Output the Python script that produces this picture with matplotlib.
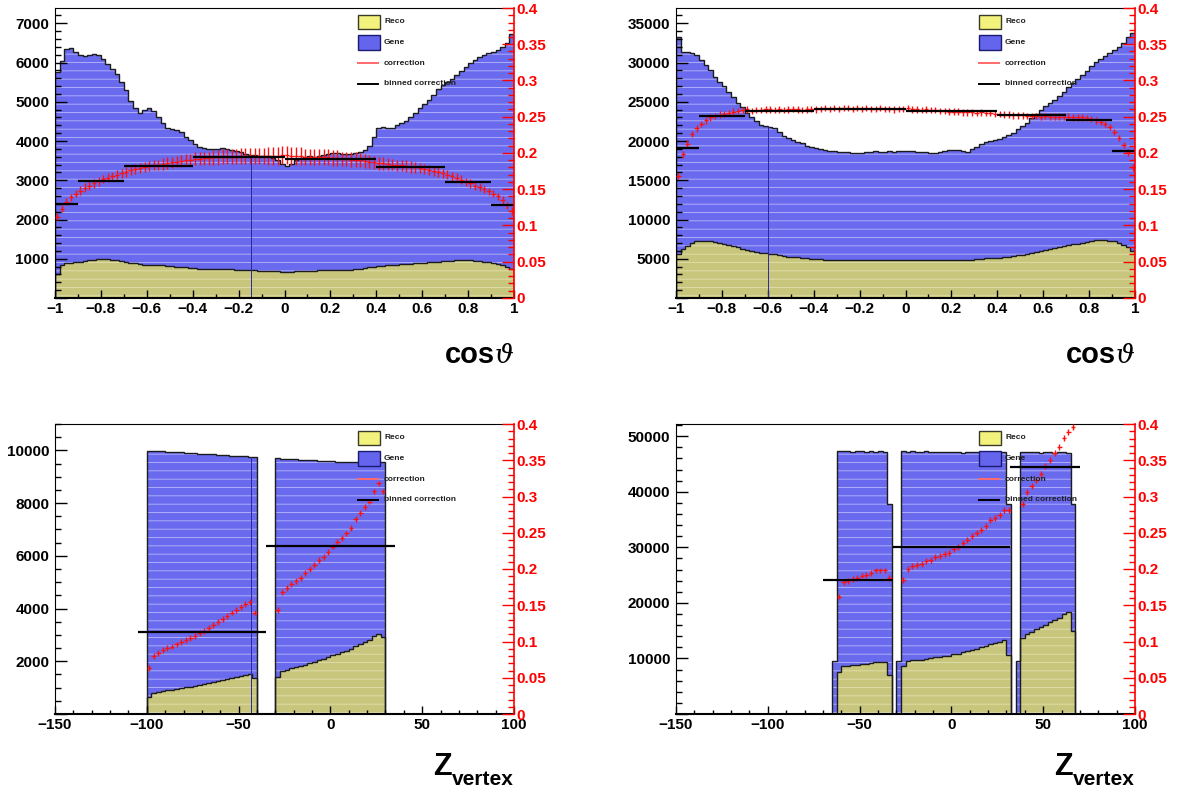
import numpy as np
import matplotlib
matplotlib.use("Agg")
import matplotlib.pyplot as plt
from matplotlib.patches import Rectangle
from matplotlib.lines import Line2D
from matplotlib.ticker import MultipleLocator, FuncFormatter

plt.rcParams['font.family'] = ['Liberation Sans', 'DejaVu Sans']
plt.rcParams['font.weight'] = 'bold'
plt.rcParams['hatch.linewidth'] = 0.6
plt.rcParams['axes.unicode_minus'] = True

W, H = 1179, 793

#### cos(theta): 100 bins on [-1, 1]
cos_edges = np.linspace(-1, 1, 101)

gene_tl = [5765, 6037, 6335, 6378, 6259, 6190, 6165, 6190, 6216, 6190,
           6080, 5961, 5833, 5706, 5510, 5298, 5026, 4830, 4719, 4787,
           4830, 4770, 4617, 4464, 4337, 4303, 4277, 4218, 4107, 4022,
           3920, 3852, 3835, 3801, 3793, 3793, 3810, 3801, 3784, 3750,
           3724, 3682, 3656, 3639, 3622, 3622, 3614, 3580, 3529, 3427,
           3367, 3427, 3529, 3580, 3597, 3614, 3597, 3614, 3639, 3682,
           3707, 3699, 3682, 3665, 3665, 3699, 3724, 3767, 3869, 4090,
           4320, 4345, 4337, 4337, 4396, 4447, 4515, 4617, 4719, 4847,
           4940, 5043, 5170, 5315, 5425, 5510, 5570, 5680, 5791, 5893,
           5978, 6063, 6131, 6190, 6233, 6276, 6318, 6403, 6488, 6718]
reco_tl = [620, 840, 880, 900, 910, 930, 950, 970, 980, 990,
           990, 990, 980, 970, 950, 930, 900, 880, 860, 850,
           850, 850, 850, 840, 820, 810, 800, 790, 780, 770,
           760, 750, 740, 740, 740, 740, 730, 730, 730, 720,
           720, 720, 710, 710, 700, 700, 700, 690, 680, 660,
           650, 660, 680, 690, 700, 700, 700, 710, 710, 720,
           720, 720, 710, 710, 720, 730, 740, 760, 780, 800,
           810, 820, 830, 840, 850, 860, 860, 870, 880, 890,
           900, 910, 920, 930, 940, 950, 950, 960, 960, 960,
           960, 950, 940, 930, 910, 890, 870, 840, 800, 750]
corr_tl = [0.112, 0.123, 0.133, 0.139, 0.144, 0.148, 0.152, 0.155, 0.158, 0.161,
           0.164, 0.166, 0.168, 0.170, 0.172, 0.174, 0.176, 0.178, 0.179, 0.181,
           0.182, 0.183, 0.184, 0.185, 0.186, 0.187, 0.188, 0.189, 0.190, 0.191,
           0.192, 0.192, 0.193, 0.193, 0.194, 0.194, 0.195, 0.195, 0.195, 0.195,
           0.196, 0.196, 0.196, 0.196, 0.196, 0.196, 0.196, 0.196, 0.196, 0.197,
           0.197, 0.196, 0.196, 0.196, 0.195, 0.195, 0.195, 0.194, 0.194, 0.194,
           0.193, 0.193, 0.192, 0.192, 0.191, 0.191, 0.190, 0.189, 0.188, 0.187,
           0.186, 0.186, 0.185, 0.184, 0.183, 0.183, 0.182, 0.181, 0.180, 0.179,
           0.178, 0.177, 0.175, 0.174, 0.172, 0.170, 0.168, 0.166, 0.163, 0.160,
           0.158, 0.155, 0.153, 0.150, 0.147, 0.144, 0.140, 0.135, 0.128, 0.120]
err_tl = [0.005, 0.005, 0.005, 0.005, 0.005, 0.006, 0.006, 0.006, 0.006, 0.006,
          0.006, 0.006, 0.006, 0.006, 0.006, 0.007, 0.007, 0.007, 0.007, 0.007,
          0.007, 0.007, 0.007, 0.008, 0.008, 0.008, 0.008, 0.008, 0.008, 0.008,
          0.009, 0.009, 0.009, 0.009, 0.010, 0.010, 0.010, 0.010, 0.010, 0.010,
          0.011, 0.011, 0.011, 0.011, 0.011, 0.011, 0.012, 0.012, 0.012, 0.012,
          0.012, 0.012, 0.012, 0.012, 0.011, 0.011, 0.011, 0.011, 0.011, 0.011,
          0.011, 0.011, 0.010, 0.010, 0.010, 0.010, 0.010, 0.010, 0.009, 0.009,
          0.009, 0.009, 0.008, 0.008, 0.008, 0.008, 0.008, 0.008, 0.007, 0.007,
          0.007, 0.007, 0.007, 0.007, 0.006, 0.006, 0.006, 0.006, 0.006, 0.006,
          0.006, 0.006, 0.006, 0.005, 0.005, 0.005, 0.005, 0.005, 0.005, 0.005]

gene_tr = [33210, 31380, 31300, 31180, 30960, 30330, 29690, 29050, 28110, 27560,
           27000, 26290, 25560, 24800, 24290, 23520, 23100, 22580, 22030, 21900,
           21820, 21610, 21180, 20630, 20330, 20120, 19910, 19690, 19400, 19180,
           19060, 18970, 18840, 18760, 18720, 18630, 18590, 18550, 18500, 18500,
           18500, 18590, 18630, 18680, 18630, 18630, 18680, 18630, 18720, 18680,
           18720, 18680, 18630, 18630, 18550, 18500, 18420, 18630, 18760, 18840,
           18890, 18840, 18760, 18630, 18930, 19270, 19610, 19910, 20030, 20120,
           20200, 20460, 20760, 21050, 21480, 21900, 22330, 22880, 23440, 23950,
           24460, 24800, 25220, 25730, 26290, 26840, 27350, 27860, 28410, 28970,
           29560, 30070, 30500, 30840, 31180, 31600, 32030, 32540, 33210, 33730]
reco_tr = [5600, 6200, 6650, 7000, 7200, 7250, 7300, 7250, 7100, 7000,
           6870, 6750, 6600, 6450, 6300, 6100, 5980, 5850, 5720, 5680,
           5650, 5600, 5500, 5360, 5280, 5230, 5170, 5110, 5040, 4990,
           4960, 4930, 4900, 4880, 4870, 4860, 4850, 4840, 4840, 4840,
           4840, 4860, 4870, 4880, 4870, 4870, 4880, 4870, 4880, 4870,
           4870, 4860, 4850, 4850, 4820, 4810, 4790, 4840, 4870, 4870,
           4850, 4840, 4820, 4790, 4860, 4930, 5020, 5090, 5110, 5130,
           5140, 5200, 5260, 5330, 5430, 5530, 5640, 5770, 5900, 6020,
           6140, 6230, 6350, 6470, 6600, 6710, 6820, 6920, 7050, 7180,
           7320, 7380, 7380, 7350, 7300, 7200, 7000, 6800, 6500, 6000]
corr_tr = [0.168, 0.198, 0.213, 0.226, 0.234, 0.240, 0.245, 0.249, 0.251, 0.253,
           0.254, 0.255, 0.257, 0.258, 0.259, 0.260, 0.258, 0.259, 0.259, 0.260,
           0.260, 0.259, 0.260, 0.259, 0.260, 0.261, 0.260, 0.259, 0.260, 0.261,
           0.260, 0.261, 0.262, 0.261, 0.262, 0.261, 0.262, 0.262, 0.261, 0.262,
           0.261, 0.262, 0.261, 0.261, 0.262, 0.261, 0.261, 0.260, 0.261, 0.261,
           0.262, 0.260, 0.260, 0.259, 0.260, 0.259, 0.259, 0.258, 0.258, 0.257,
           0.257, 0.257, 0.256, 0.256, 0.256, 0.255, 0.256, 0.255, 0.255, 0.254,
           0.254, 0.253, 0.253, 0.252, 0.252, 0.252, 0.251, 0.251, 0.251, 0.250,
           0.251, 0.250, 0.250, 0.250, 0.250, 0.250, 0.249, 0.249, 0.249, 0.248,
           0.247, 0.245, 0.243, 0.240, 0.236, 0.229, 0.221, 0.211, 0.201, 0.180]
err_tr = 0.0045

cos_bin_edges = [-1, -0.9, -0.7, -0.4, 0, 0.4, 0.7, 0.9, 1]
binned_tl = [0.130, 0.161, 0.182, 0.194, 0.192, 0.180, 0.160, 0.128]
binned_tr = [0.207, 0.251, 0.258, 0.2605, 0.258, 0.252, 0.2453, 0.203]

#### Z vertex: 100 bins on [-150, 100], filled only where data exist
z_edges = np.linspace(-150, 100, 101)

bl_starts = [-100, -30]
gene_bl = [[9990, 9980, 9970, 9960, 9950, 9940, 9930, 9920, 9910, 9900, 9890, 9880,
            9870, 9860, 9850, 9840, 9820, 9810, 9800, 9790, 9780, 9770, 9760, 9740],
           [9700, 9690, 9680, 9670, 9660, 9650, 9640, 9630, 9620, 9610, 9600, 9590,
            9580, 9570, 9560, 9550, 9550, 9540, 9540, 9530, 9560, 9570, 9560, 9550]]
reco_bl = [[629, 798, 837, 876, 905, 924, 953, 982, 1011, 1040, 1069, 1107,
            1136, 1174, 1213, 1252, 1290, 1328, 1376, 1405, 1453, 1491, 1518, 1364],
           [1397, 1628, 1686, 1733, 1781, 1818, 1875, 1932, 1988, 2045, 2092, 2158,
            2224, 2280, 2336, 2390, 2466, 2581, 2656, 2732, 2808, 2946, 3044, 2932]]
corr_bl_starts = [-100, -30]
corr_bl = [[0.063, 0.080, 0.084, 0.088, 0.091, 0.093, 0.096, 0.099, 0.102, 0.105, 0.108, 0.112,
            0.115, 0.119, 0.123, 0.127, 0.131, 0.135, 0.140, 0.143, 0.148, 0.152, 0.155, 0.140],
           [0.144, 0.168, 0.174, 0.179, 0.184, 0.188, 0.194, 0.200, 0.206, 0.212, 0.217, 0.224,
            0.231, 0.237, 0.243, 0.249, 0.257, 0.269, 0.277, 0.285, 0.293, 0.307, 0.318, 0.307]]
binned_bl_lo = [-105, -35]
binned_bl_hi = [-35, 35]
binned_bl = [0.1134, 0.2319]

br_starts = [-65, -30, 35]
gene_br = [[9500, 47300, 47350, 47300, 47250, 47300, 47300, 47250, 47300, 47250, 47300, 47250, 37800],
           [9500, 47300, 47250, 47300, 47200, 47250, 47300, 47200, 47250, 47150, 47200, 47100, 47250,
            47200, 47050, 47150, 47200, 47100, 47150, 47100, 47200, 47100, 47150, 47200, 37800],
           [9500, 47100, 47200, 47100, 47100, 47000, 47100, 47100, 47050, 47100, 47100, 47050, 37800]]
reco_br = [[0, 7650, 8600, 8700, 8800, 8900, 9050, 9080, 9230, 9350, 9380, 9380, 7100],
           [0, 8700, 9480, 9660, 9700, 9790, 9960, 10020, 10200, 10270, 10420, 10480, 10720,
            10870, 11130, 11330, 11560, 11780, 11980, 12220, 12650, 12760, 12980, 13300, 10650],
           [0, 13650, 14420, 14790, 15220, 15610, 16090, 16530, 16960, 17350, 17930, 18300, 14960]]
corr_br_starts = [-62.5, -27.5, 37.5]
corr_br = [[0.162, 0.182, 0.184, 0.186, 0.188, 0.191, 0.192, 0.195, 0.198, 0.198, 0.198, 0.188],
           [0.185, 0.2005, 0.2046, 0.2055, 0.2074, 0.211, 0.2124, 0.2161, 0.2175, 0.2207, 0.222, 0.2271,
            0.2303, 0.2359, 0.240, 0.245, 0.2497, 0.2538, 0.2589, 0.268, 0.2703, 0.2749, 0.2818, 0.2818],
           [0.2897, 0.3062, 0.314, 0.3232, 0.3315, 0.3416, 0.3508, 0.360, 0.3683, 0.3807, 0.3885, 0.3959]]
err_z = 0.004
binned_br_lo = [-70, -32, 32]
binned_br_hi = [-32, 32, 70]
binned_br = [0.1853, 0.2308, 0.3407]

gene_face, gene_hatch = '#6a6aee', '#b8b8fa'
reco_face, reco_hatch = '#c8c67c', '#e2e0ae'
line_col = '#1c1c1c'


def place(edges, starts, segs, fill=0.0):
    out = np.full(len(edges) - 1, fill)
    w = edges[1] - edges[0]
    for s, vals in zip(starts, segs):
        i = int(round((s - edges[0]) / w))
        out[i:i + len(vals)] = vals
    return out


def fmt(v, p):
    v = round(v, 6) + 0.0
    return ('%g' % v).replace('-', '\u2212')


def fmt_left(v, p):
    # ROOT leaves the zero off the left axis
    if abs(v) < 1e-9:
        return ''
    return '%g' % v


def legend(ax):
    x0, x1, xt = 0.66, 0.708, 0.717
    rows = [0.952, 0.881, 0.810, 0.738]
    bh = 0.05
    ax.add_patch(Rectangle((x0, rows[0] - bh / 2), x1 - x0, bh, transform=ax.transAxes,
                           facecolor='#f2f27c', edgecolor='#3a3a2a', lw=1, zorder=10))
    ax.add_patch(Rectangle((x0, rows[1] - bh / 2), x1 - x0, bh, transform=ax.transAxes,
                           facecolor='#6464ec', edgecolor='#1a1a70', lw=1, zorder=10))
    ax.add_line(Line2D([x0, x1 - 0.004], [rows[2]] * 2, transform=ax.transAxes,
                       color='#ff6a6a', lw=1.4, zorder=10))
    ax.add_line(Line2D([x0, x1 - 0.004], [rows[3]] * 2, transform=ax.transAxes,
                       color='black', lw=1.4, zorder=10))
    for r, t in zip(rows, ['Reco', 'Gene', 'correction', 'binned correction']):
        ax.text(xt, r, t, transform=ax.transAxes, fontsize=6, va='center', ha='left',
                color='#202020', zorder=11)


def panel(px, py, edges, gene, reco, corr, err, blo, bhi, bval, ymax,
          ymaj, ymin_, xmaj, xmin_, seam=None):
    ax = fig.add_axes([px / W, 1 - (py + 290) / H, 459 / W, 290 / H])
    w = edges[1] - edges[0]
    ax.stairs(gene, edges, fill=True, facecolor=gene_face, edgecolor=gene_hatch, hatch='--', lw=0)
    ax.stairs(reco, edges, fill=True, facecolor=reco_face, edgecolor=reco_hatch, hatch='--', lw=0)
    ax.stairs(gene, edges, color=line_col, lw=1)
    ax.stairs(reco, edges, color=line_col, lw=1)
    if seam is not None:
        k = int((seam - edges[0]) / w)
        ax.vlines(seam, 0, gene[k], colors='#2a2aa0', lw=0.7)
    ax.set_xlim(edges[0], edges[-1])
    ax.set_ylim(0, ymax)
    ax.xaxis.set_major_locator(MultipleLocator(xmaj))
    ax.xaxis.set_minor_locator(MultipleLocator(xmin_))
    ax.yaxis.set_major_locator(MultipleLocator(ymaj))
    ax.yaxis.set_minor_locator(MultipleLocator(ymin_))
    ax.xaxis.set_major_formatter(FuncFormatter(fmt))
    ax.yaxis.set_major_formatter(FuncFormatter(fmt_left))
    ax.tick_params(axis='y', which='major', direction='in', length=8.8, width=1,
                   labelsize=11, pad=4, right=False)
    ax.tick_params(axis='y', which='minor', direction='in', length=4.3, width=1, right=False)
    ax.tick_params(axis='x', which='major', direction='in', length=5.8, width=1,
                   labelsize=11, pad=3, top=False)
    ax.tick_params(axis='x', which='minor', direction='in', length=3.2, width=1, top=False)
    ax.spines['right'].set_visible(False)
    ax.spines['bottom'].set_linewidth(1.5)

    ax2 = ax.twinx()
    ax2.set_ylim(0, 0.4)
    centers = 0.5 * (edges[:-1] + edges[1:])
    m = ~np.isnan(corr)
    e = err[m] if np.ndim(err) else err
    ax2.errorbar(centers[m], corr[m], xerr=w / 2, yerr=e, fmt='none',
                 ecolor='#ff1010', elinewidth=1)
    ax2.hlines(bval, blo, bhi, colors='black', lw=1.6)
    ax2.yaxis.set_major_locator(MultipleLocator(0.05))
    ax2.yaxis.set_minor_locator(MultipleLocator(0.01))
    ax2.yaxis.set_major_formatter(FuncFormatter(fmt))
    ax2.tick_params(axis='y', which='major', direction='in', length=8.8, width=1,
                    colors='red', labelsize=11, pad=2)
    ax2.tick_params(axis='y', which='minor', direction='in', length=4.3, width=1, colors='red')
    for s in ['left', 'top', 'bottom']:
        ax2.spines[s].set_visible(False)
    ax2.spines['right'].set_color('red')
    ax2.spines['right'].set_linewidth(1.2)
    legend(ax2)
    return ax


fig = plt.figure(figsize=(W / 100, H / 100), dpi=100)

cos_bl = np.array(cos_bin_edges)
panel(55, 8, cos_edges, np.array(gene_tl, float), np.array(reco_tl, float),
      np.array(corr_tl), np.array(err_tl), cos_bl[:-1], cos_bl[1:], binned_tl,
      7390, 1000, 200, 0.2, 0.1, seam=-0.145)
panel(676, 8, cos_edges, np.array(gene_tr, float), np.array(reco_tr, float),
      np.array(corr_tr), err_tr, cos_bl[:-1], cos_bl[1:], binned_tr,
      36950, 5000, 1000, 0.2, 0.1, seam=-0.6)
panel(55, 424, z_edges, place(z_edges, bl_starts, gene_bl), place(z_edges, bl_starts, reco_bl),
      place(z_edges, corr_bl_starts, corr_bl, np.nan), err_z, binned_bl_lo, binned_bl_hi, binned_bl,
      11000, 2000, 500, 50, 10, seam=-43)
panel(676, 424, z_edges, place(z_edges, br_starts, gene_br), place(z_edges, br_starts, reco_br),
      place(z_edges, corr_br_starts, corr_br, np.nan), err_z, binned_br_lo, binned_br_hi, binned_br,
      52200, 10000, 2000, 50, 10)

# axis titles, ROOT style at the lower right of each pad
for dx in [0, 621]:
    fig.text((495 + dx) / W, 1 - 363 / H, 'cos', ha='right', va='baseline',
             fontsize=21, fontweight='bold')
    fig.text((495 + dx) / W, 1 - 363 / H, '\u03d1', ha='left', va='baseline',
             fontsize=19, fontweight='normal', family=['DejaVu Serif'], style='italic')
    fig.text((433 + dx) / W, 1 - 775 / H, 'Z', ha='left', va='baseline',
             fontsize=22, fontweight='bold')
    fig.text((452 + dx) / W, 1 - 785 / H, 'vertex', ha='left', va='baseline',
             fontsize=15, fontweight='bold')

fig.savefig('out.png', dpi=100)
